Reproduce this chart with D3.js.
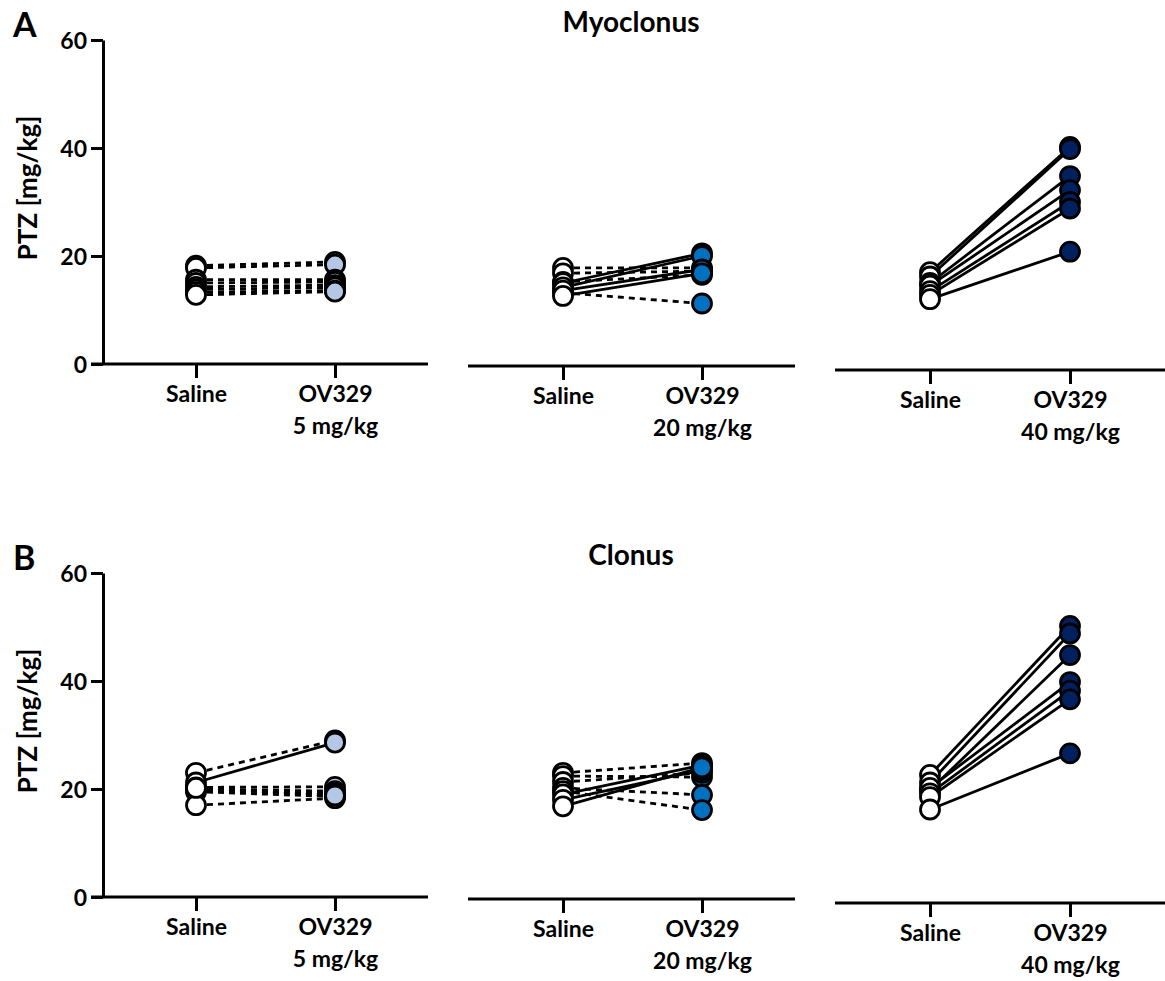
<!DOCTYPE html>
<html lang="en">
<head>
    <meta charset="UTF-8">
    <title>PTZ thresholds - Myoclonus / Clonus</title>
    <script src="https://d3js.org/d3.v7.min.js"></script>
    <style>
        body { margin: 0; background: #fff; }
        text { font-family: "Lato", "Open Sans", sans-serif; font-weight: bold; fill: #000; }
        .tick text { font-size: 23px; }
        .axis path, .axis line { stroke: #000; stroke-width: 3px; }
    </style>
</head>
<body>
    <svg width="1165" height="981"></svg>

    <script>
        // ---- data ----
        const categories = ["Saline", "OV329"];
        const doses = ["5 mg/kg", "20 mg/kg", "40 mg/kg"];
        const doseColors = ["#b4c7e7", "#0070c0", "#002060"];
        const yTicks = [0, 20, 40, 60];
        const titles = ["Myoclonus", "Clonus"];
        const letters = ["A", "B"];

        // Myoclonus (panel A); solid = 1 -> solid line, 0 -> dashed line
        const myoSaline5  = [18.2, 17.8, 15.6, 15.0, 14.3, 13.8, 13.3, 12.8];
        const myoOV5      = [18.9, 18.4, 15.6, 15.2, 14.6, 14.2, 13.6, 13.4];
        const myoSolid5   = [0, 0, 0, 0, 0, 0, 0, 0];

        const myoSaline20 = [17.8, 16.8, 15.2, 13.2, 15.0, 14.2, 13.6, 12.6];
        const myoOV20     = [17.8, 17.2, 16.5, 11.2, 20.5, 20.0, 17.5, 16.8];
        const myoSolid20  = [0, 0, 0, 0, 1, 1, 1, 1];

        const myoSaline40 = [17.0, 16.2, 15.0, 14.5, 13.5, 12.8, 12.0];
        const myoOV40     = [40.2, 39.8, 34.8, 32.2, 30.0, 28.8, 20.8];
        const myoSolid40  = [1, 1, 1, 1, 1, 1, 1];

        // Clonus (panel B)
        const cloSaline5  = [23.0, 21.2, 20.3, 20.0, 19.8, 19.5, 17.0, 20.2];
        const cloOV5      = [29.0, 28.6, 20.4, 19.6, 19.2, 18.6, 18.3, 18.8];
        const cloSolid5   = [0, 1, 0, 0, 0, 0, 0, 0];

        const cloSaline20 = [23.0, 22.4, 21.3, 20.2, 19.6, 19.0, 18.0, 16.8];
        const cloOV20     = [24.8, 22.2, 23.0, 18.9, 16.1, 24.4, 23.5, 24.0];
        const cloSolid20  = [0, 0, 0, 0, 0, 1, 1, 1];

        const cloSaline40 = [22.6, 21.2, 19.8, 20.2, 19.2, 18.5, 16.2];
        const cloOV40     = [50.2, 48.8, 44.8, 39.8, 38.2, 36.6, 26.6];
        const cloSolid40  = [1, 1, 1, 1, 1, 1, 1];

        const panels = [
            [[myoSaline5, myoOV5, myoSolid5], [myoSaline20, myoOV20, myoSolid20], [myoSaline40, myoOV40, myoSolid40]],
            [[cloSaline5, cloOV5, cloSolid5], [cloSaline20, cloOV20, cloSolid20], [cloSaline40, cloOV40, cloSolid40]]
        ];

        // ---- layout ----
        const panelTop = [40, 573];          // pixel of y = 60
        const plotH = 324;                   // 0..60
        const subplots = [
            { axis: [91, 428], pts: [196, 335], shift: 0 },
            { axis: [468, 795], pts: [563, 702], shift: 2 },
            { axis: [835, 1165], pts: [930, 1070], shift: 6 }
        ];
        const r = 9.5;
        const sw = 2.8;

        const svg = d3.select("svg");

        panels.forEach((panel, p) => {
            const top = panelTop[p];
            const y = d3.scaleLinear().domain([0, 60]).range([top + plotH, top]);
            const g = svg.append("g");

            // panel letter + title
            g.append("text").attr("x", 13).attr("y", top - 3)
                .style("font-size", "34px").text(letters[p]);
            g.append("text").attr("x", 631).attr("y", top - 8)
                .attr("text-anchor", "middle").style("font-size", "28px").text(titles[p]);

            // y axis (first subplot only)
            const yAxis = g.append("g").attr("class", "axis")
                .attr("transform", `translate(103,0)`)
                .call(d3.axisLeft(y).tickValues(yTicks).tickSize(12).tickSizeOuter(0).tickPadding(4));
            yAxis.selectAll(".tick text").attr("dy", "0.36em");

            g.append("text")
                .attr("transform", `translate(37,${top + 148}) rotate(-90)`)
                .attr("text-anchor", "middle")
                .style("font-size", "26px")
                .text("PTZ [mg/kg]");

            panel.forEach((sub, s) => {
                const L = subplots[s];
                const base = top + plotH + L.shift;
                const x = d3.scalePoint().domain(categories).range(L.pts);
                const [sal, ov, solid] = sub;

                // x axis line + ticks
                g.append("line")
                    .attr("x1", L.axis[0]).attr("x2", L.axis[1])
                    .attr("y1", base).attr("y2", base)
                    .attr("stroke", "#000").attr("stroke-width", 3);
                const xAxis = g.append("g").attr("class", "axis")
                    .attr("transform", `translate(0,${base})`)
                    .call(d3.axisBottom(x).tickSize(14).tickSizeOuter(0).tickPadding(8));
                xAxis.select(".domain").remove();
                xAxis.selectAll(".tick")
                    .filter(d => d === "OV329")
                    .append("text")
                    .attr("y", 22).attr("dy", "2.1em")
                    .attr("text-anchor", "middle")
                    .style("font-size", "23px")
                    .text(doses[s]);

                // paired lines
                g.selectAll(null)
                    .data(sal.map((v, i) => ({ a: v, b: ov[i], solid: solid[i] })))
                    .enter().append("line")
                    .attr("x1", x("Saline")).attr("y1", d => y(d.a))
                    .attr("x2", x("OV329")).attr("y2", d => y(d.b))
                    .attr("stroke", "#000")
                    .attr("stroke-width", sw)
                    .attr("stroke-dasharray", d => d.solid ? null : "6,5");

                // saline points
                g.selectAll(null).data(sal).enter().append("circle")
                    .attr("cx", x("Saline")).attr("cy", d => y(d)).attr("r", r)
                    .attr("fill", "#fff").attr("stroke", "#000").attr("stroke-width", sw);

                // OV329 points
                g.selectAll(null).data(ov).enter().append("circle")
                    .attr("cx", x("OV329")).attr("cy", d => y(d)).attr("r", r)
                    .attr("fill", doseColors[s]).attr("stroke", "#000").attr("stroke-width", sw);
            });
        });
    </script>
</body>
</html>
